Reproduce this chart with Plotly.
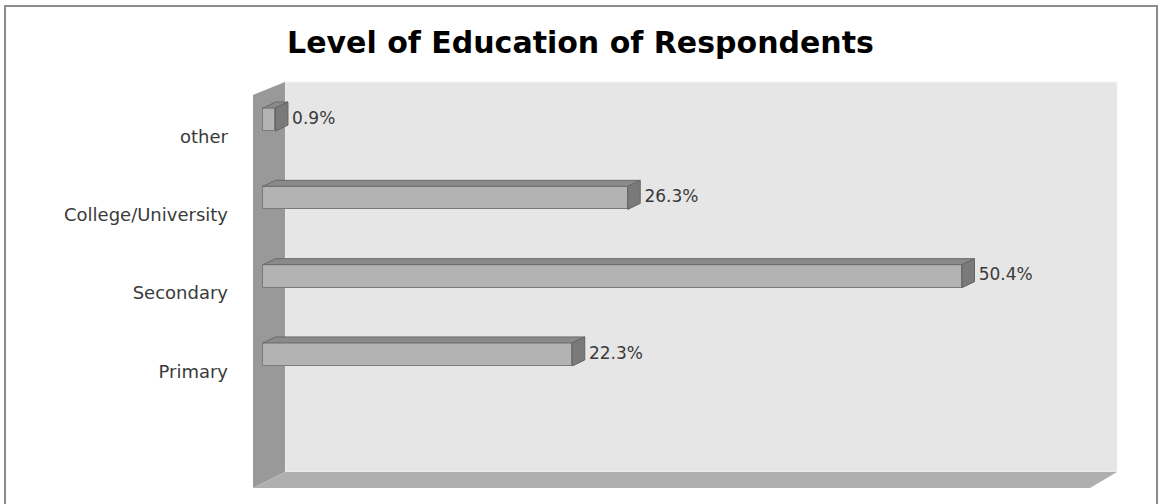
import plotly.graph_objects as go

# ---- data ----
categories = ["Primary", "Secondary", "College/University", "other"]
values = [22.3, 50.4, 26.3, 0.9]
title_text = "Level of Education of Respondents"

W, H = 1161, 504
# plot area in pixels
L, R, T, B = 253, 1117, 82, 488

# axis ranges (data units)
x_range = [-0.721, 61.577]
y_range = [-1.705, 3.480]

pos = list(range(len(categories)))
bar_w = 0.294
dx = 0.90      # depth offset in x units
dy = 0.077     # depth offset in y units
label_shift = 0.217
label_gap = 0.30

def px(xp):
    return (xp - L) / (R - L)

def py(yp):
    return 1 - (yp - T) / (B - T)

fig = go.Figure()

# front faces of the bars
fig.add_trace(go.Bar(
    y=pos, x=values, orientation="h", width=bar_w,
    marker=dict(color="#b3b3b3", line=dict(color="#7a7a7a", width=1)),
    hoverinfo="skip", showlegend=False,
))

# 3D top and side faces derived from the values
for p, v in zip(pos, values):
    yt = p + bar_w / 2
    yb = p - bar_w / 2
    fig.add_trace(go.Scatter(
        x=[0, v, v + dx, dx, 0], y=[yt, yt, yt + dy, yt + dy, yt],
        fill="toself", mode="lines", fillcolor="#8a8a8a",
        line=dict(color="#6a6a6a", width=1), hoverinfo="skip", showlegend=False))
    fig.add_trace(go.Scatter(
        x=[v, v, v + dx, v + dx, v], y=[yt, yb, yb + dy, yt + dy, yt],
        fill="toself", mode="lines", fillcolor="#7a7a7a",
        line=dict(color="#646464", width=1), hoverinfo="skip", showlegend=False))

# value labels
fig.add_trace(go.Scatter(
    x=[v + dx + label_gap for v in values], y=pos, mode="text",
    text=[f"{v}%" for v in values], textposition="middle right",
    textfont=dict(family="DejaVu Sans", size=17, color="#3a3a3a"),
    hoverinfo="skip", showlegend=False))

shapes = [
    # back wall
    dict(type="path", xref="paper", yref="paper", layer="below",
         path=f"M{px(285)},{py(82)} L{px(1117)},{py(82)} L{px(1117)},{py(472)} L{px(285)},{py(472)} Z",
         fillcolor="#e6e6e6", line=dict(color="#f2f2f2", width=1)),
    # left wall
    dict(type="path", xref="paper", yref="paper", layer="below",
         path=f"M{px(253)},{py(95)} L{px(285)},{py(82)} L{px(285)},{py(472)} L{px(253)},{py(488)} Z",
         fillcolor="#999999", line=dict(width=0)),
    # floor
    dict(type="path", xref="paper", yref="paper", layer="below",
         path=f"M{px(253)},{py(488)} L{px(285)},{py(472)} L{px(1117)},{py(472)} L{px(1090)},{py(488)} Z",
         fillcolor="#afafaf", line=dict(width=0)),
    # outer frame
    dict(type="rect", xref="paper", yref="paper", layer="below",
         x0=px(5), x1=px(1157), y0=py(507), y1=py(6),
         fillcolor="rgba(0,0,0,0)", line=dict(color="#8c8c8c", width=2)),
]

fig.update_layout(
    width=W, height=H,
    margin=dict(l=L, r=W - R, t=T, b=H - B, pad=0),
    paper_bgcolor="white", plot_bgcolor="rgba(0,0,0,0)",
    shapes=shapes,
    title=dict(text=f"<b>{title_text}</b>", x=0.5, xanchor="center",
               y=1 - 42 / H, yanchor="middle", yref="container",
               font=dict(family="DejaVu Sans", size=30, color="#000000")),
    xaxis=dict(range=x_range, visible=False, fixedrange=True),
    yaxis=dict(range=y_range, tickvals=[p - label_shift for p in pos],
               ticktext=categories, ticks="", showgrid=False, zeroline=False,
               showline=False, ticklabelstandoff=24,
               tickfont=dict(family="DejaVu Sans", size=18, color="#3a3a3a"),
               fixedrange=True),
    bargap=0,
)

fig.write_html(
    "out.html",
    config={"displayModeBar": False},
    post_script="document.body.style.margin='0';document.body.style.overflow='hidden';",
)
